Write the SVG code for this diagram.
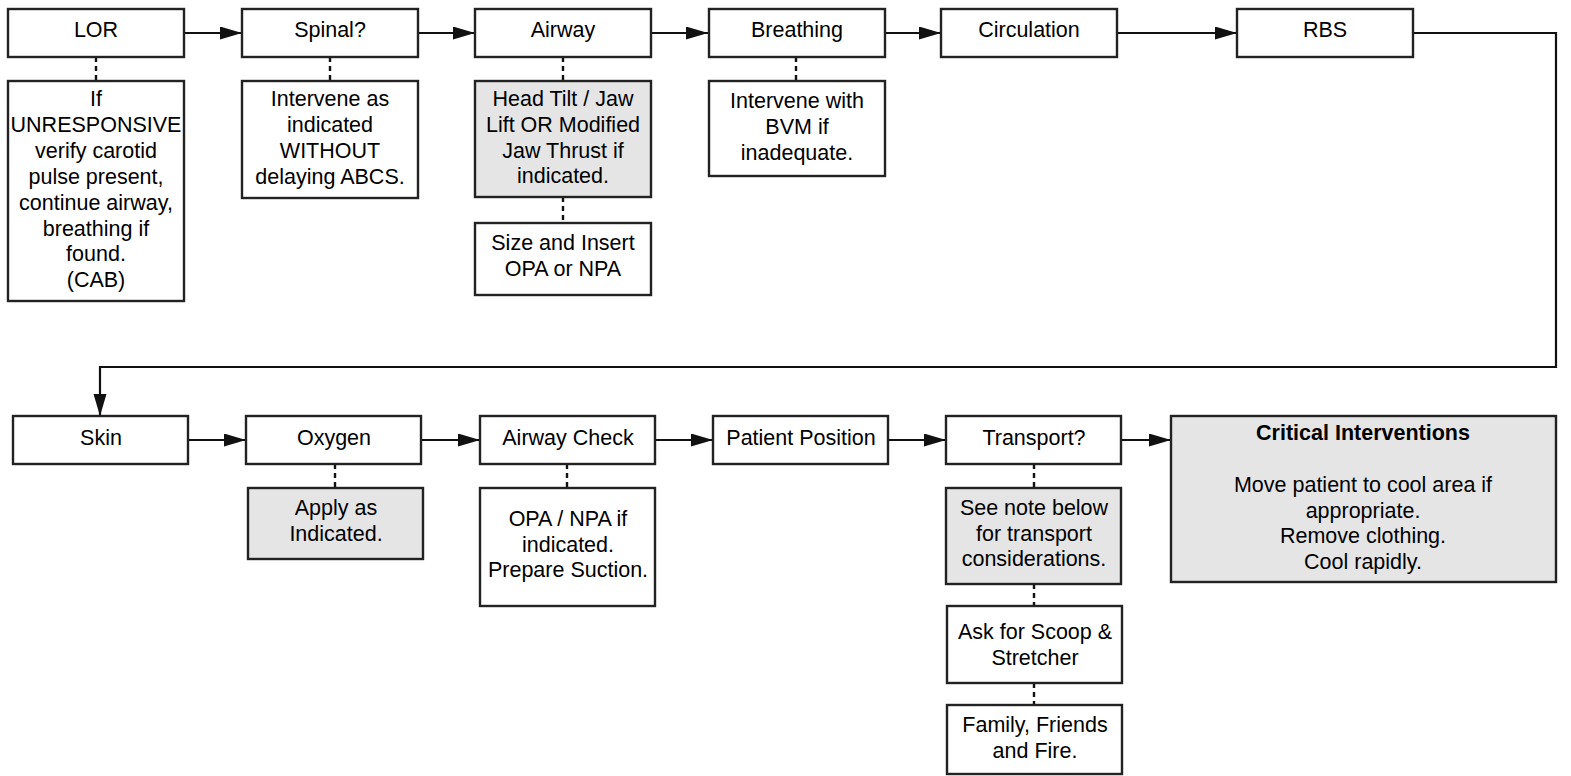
<svg xmlns="http://www.w3.org/2000/svg" width="1571" height="776" viewBox="0 0 1571 776">
<defs>
<style>
.box{fill:#fff;stroke:#222;stroke-width:2.4}
.gray{fill:#e5e5e5}
text{font-family:"Liberation Sans",Arial,sans-serif;font-size:21.5px;fill:#000;text-anchor:middle}
.b{font-weight:bold}
.conn{fill:none;stroke:#111;stroke-width:2.2}
.dash{fill:none;stroke:#111;stroke-width:2.4;stroke-dasharray:5 4}
</style>
<marker id="arr" markerUnits="userSpaceOnUse" markerWidth="23" markerHeight="14" refX="22" refY="6.5" orient="auto">
<path d="M0,0 L22,6.5 L0,13 Z" fill="#111"/>
</marker>
</defs>
<rect width="1571" height="776" fill="#fff"/>

<g id="connectors">
<line class="conn" x1="184" y1="33" x2="242" y2="33" marker-end="url(#arr)"/>
<line class="conn" x1="418" y1="33" x2="475" y2="33" marker-end="url(#arr)"/>
<line class="conn" x1="651" y1="33" x2="708" y2="33" marker-end="url(#arr)"/>
<line class="conn" x1="885" y1="33" x2="941" y2="33" marker-end="url(#arr)"/>
<line class="conn" x1="1117" y1="33" x2="1237" y2="33" marker-end="url(#arr)"/>
<path class="conn" d="M1413,33 H1556 V367 H100 V416" marker-end="url(#arr)"/>
<line class="conn" x1="188" y1="440" x2="246" y2="440" marker-end="url(#arr)"/>
<line class="conn" x1="421" y1="440" x2="480" y2="440" marker-end="url(#arr)"/>
<line class="conn" x1="655" y1="440" x2="713" y2="440" marker-end="url(#arr)"/>
<line class="conn" x1="888" y1="440" x2="946" y2="440" marker-end="url(#arr)"/>
<line class="conn" x1="1121" y1="440" x2="1171" y2="440" marker-end="url(#arr)"/>
<line class="dash" x1="96" y1="57" x2="96" y2="81"/>
<line class="dash" x1="330" y1="57" x2="330" y2="81"/>
<line class="dash" x1="563" y1="57" x2="563" y2="81"/>
<line class="dash" x1="563" y1="197" x2="563" y2="223"/>
<line class="dash" x1="796" y1="57" x2="796" y2="81"/>
<line class="dash" x1="335" y1="464" x2="335" y2="488"/>
<line class="dash" x1="567" y1="464" x2="567" y2="488"/>
<line class="dash" x1="1034" y1="464" x2="1034" y2="488"/>
<line class="dash" x1="1034" y1="584" x2="1034" y2="606"/>
<line class="dash" x1="1034" y1="683" x2="1034" y2="705"/>
</g>

<g id="lor"><rect class="box" x="8" y="9" width="176" height="48"/><text x="96" y="37">LOR</text></g>
<g id="spinal"><rect class="box" x="242" y="9" width="176" height="48"/><text x="330" y="37">Spinal?</text></g>
<g id="airway"><rect class="box" x="475" y="9" width="176" height="48"/><text x="563" y="37">Airway</text></g>
<g id="breathing"><rect class="box" x="709" y="9" width="176" height="48"/><text x="797" y="37">Breathing</text></g>
<g id="circulation"><rect class="box" x="941" y="9" width="176" height="48"/><text x="1029" y="37">Circulation</text></g>
<g id="rbs"><rect class="box" x="1237" y="9" width="176" height="48"/><text x="1325" y="37">RBS</text></g>

<g id="lor-note"><rect class="box" x="8" y="81" width="176" height="220"/>
<text x="96" y="106">If</text>
<text x="96" y="132">UNRESPONSIVE</text>
<text x="96" y="158">verify carotid</text>
<text x="96" y="184">pulse present,</text>
<text x="96" y="210">continue airway,</text>
<text x="96" y="236">breathing if</text>
<text x="96" y="261">found.</text>
<text x="96" y="287">(CAB)</text>
</g>
<g id="spinal-note"><rect class="box" x="242" y="81" width="176" height="117"/>
<text x="330" y="106">Intervene as</text>
<text x="330" y="132">indicated</text>
<text x="330" y="158">WITHOUT</text>
<text x="330" y="184">delaying ABCS.</text>
</g>
<g id="airway-note"><rect class="box gray" x="475" y="81" width="176" height="116"/>
<text x="563" y="106">Head Tilt / Jaw</text>
<text x="563" y="132">Lift OR Modified</text>
<text x="563" y="158">Jaw Thrust if</text>
<text x="563" y="183">indicated.</text>
</g>
<g id="airway-note2"><rect class="box" x="475" y="223" width="176" height="72"/>
<text x="563" y="250">Size and Insert</text>
<text x="563" y="276">OPA or NPA</text>
</g>
<g id="breathing-note"><rect class="box" x="709" y="81" width="176" height="95"/>
<text x="797" y="108">Intervene with</text>
<text x="797" y="134">BVM if</text>
<text x="797" y="160">inadequate.</text>
</g>

<g id="skin"><rect class="box" x="13" y="416" width="175" height="48"/><text x="101" y="445">Skin</text></g>
<g id="oxygen"><rect class="box" x="246" y="416" width="175" height="48"/><text x="334" y="445">Oxygen</text></g>
<g id="airway-check"><rect class="box" x="480" y="416" width="175" height="48"/><text x="568" y="445">Airway Check</text></g>
<g id="patient-position"><rect class="box" x="713" y="416" width="175" height="48"/><text x="801" y="445">Patient Position</text></g>
<g id="transport"><rect class="box" x="946" y="416" width="175" height="48"/><text x="1034" y="445">Transport?</text></g>
<g id="critical"><rect class="box gray" x="1171" y="416" width="385" height="166"/>
<text class="b" x="1363" y="440">Critical Interventions</text>
<text x="1363" y="492">Move patient to cool area if</text>
<text x="1363" y="518">appropriate.</text>
<text x="1363" y="543">Remove clothing.</text>
<text x="1363" y="569">Cool rapidly.</text>
</g>

<g id="oxygen-note"><rect class="box gray" x="248" y="488" width="175" height="71"/>
<text x="336" y="515">Apply as</text>
<text x="336" y="541">Indicated.</text>
</g>
<g id="airway-check-note"><rect class="box" x="480" y="488" width="175" height="118"/>
<text x="568" y="526">OPA / NPA if</text>
<text x="568" y="552">indicated.</text>
<text x="568" y="577">Prepare Suction.</text>
</g>
<g id="transport-note"><rect class="box gray" x="946" y="488" width="175" height="96"/>
<text x="1034" y="515">See note below</text>
<text x="1034" y="541">for transport</text>
<text x="1034" y="566">considerations.</text>
</g>
<g id="transport-note2"><rect class="box" x="947" y="606" width="175" height="77"/>
<text x="1035" y="639">Ask for Scoop &amp;</text>
<text x="1035" y="665">Stretcher</text>
</g>
<g id="transport-note3"><rect class="box" x="947" y="705" width="175" height="69"/>
<text x="1035" y="732">Family, Friends</text>
<text x="1035" y="758">and Fire.</text>
</g>
</svg>
